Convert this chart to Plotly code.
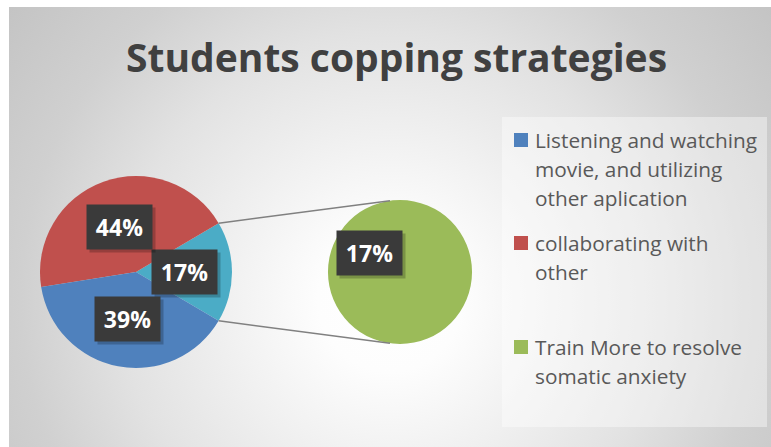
import base64, math
import plotly.graph_objects as go

# ---- data ----
title = "Students copping strategies"
categories = ["Listening and watching movie, and utilizing other aplication",
              "collaborating with other",
              "Train More to resolve somatic anxiety"]
legend_lines = [["Listening and watching", "movie, and utilizing", "other aplication"],
                ["collaborating with", "other"],
                ["Train More to resolve", "somatic anxiety"]]
values = [39, 44, 17]          # percent
other_label = "Other"          # main-pie aggregate of the secondary pie
colors = ["#4F81BD", "#C0504D", "#9BBB59"]
other_color = "#4BACC6"

W, H = 771, 447
def px(x): return x / W
def py(y): return 1 - y / H

# pie geometry (pixels)
mcx, mcy, mr = 136, 272, 96
scx, scy, sr = 400, 272, 72

other_val = values[2]
main_vals = [other_val, values[1], values[0]]
main_labels = [other_label, categories[1], categories[0]]
main_colors = [other_color, colors[1], colors[0]]
half = other_val / 100 * 360 / 2     # half-angle of the "Other" slice

fig = go.Figure()
fig.add_trace(go.Pie(
    values=main_vals, labels=main_labels, sort=False, direction="counterclockwise",
    rotation=90 - half, marker=dict(colors=main_colors, line=dict(width=0)),
    textinfo="none", hoverinfo="label+percent", showlegend=False,
    domain=dict(x=[px(mcx - mr), px(mcx + mr)], y=[py(mcy + mr), py(mcy - mr)])))
fig.add_trace(go.Pie(
    values=[values[2]], labels=[categories[2]], sort=False,
    marker=dict(colors=[colors[2]], line=dict(width=0)),
    textinfo="none", hoverinfo="label", showlegend=False,
    domain=dict(x=[px(scx - sr), px(scx + sr)], y=[py(scy + sr), py(scy - sr)])))

shapes, annos = [], []

# connector lines
sec_ang = math.radians(98)
for s in (1, -1):
    a = math.radians(s * half)
    x0, y0 = mcx + mr * math.cos(a), mcy - mr * math.sin(a)
    x1, y1 = scx + sr * math.cos(sec_ang), scy - s * sr * math.sin(sec_ang)
    shapes.append(dict(type="line", xref="paper", yref="paper",
                       x0=px(x0), y0=py(y0), x1=px(x1), y1=py(y1),
                       line=dict(color="#808080", width=1.5)))

# data labels (dark boxes at half radius, mid-angle)
def label(cx, cy, r, ang_deg, text):
    a = math.radians(ang_deg)
    x, y = cx + r * math.cos(a), cy - r * math.sin(a)
    annos.append(dict(x=px(x + 3), y=py(y + 3), xref="paper", yref="paper", text="",
                      xanchor="center", yanchor="middle",
                      showarrow=False, width=63, height=42, bgcolor="rgba(0,0,0,0.22)"))
    annos.append(dict(x=px(x), y=py(y), xref="paper", yref="paper", text=f"<b>{text}</b>",
                      xanchor="center", yanchor="middle",
                      showarrow=False, width=63, height=42, bgcolor="#3a3a3a",
                      font=dict(family="Open Sans", size=23, color="white")))

start = -half
for v in main_vals:
    ang = start + v * 360 / 100 / 2
    label(mcx, mcy, mr / 2, ang, f"{v}%")
    start += v * 360 / 100
label(scx, scy, sr / 2, 148.5, f"{values[2]}%")

# title
annos.append(dict(x=px(396.5), y=py(56), xref="paper", yref="paper", text=f"<b>{title}</b>",
                  showarrow=False, xanchor="center", yanchor="middle",
                  font=dict(family="Open Sans", size=39, color="#404040")))

# legend box
shapes.append(dict(type="rect", xref="paper", yref="paper", x0=px(502), x1=px(767),
                   y0=py(117), y1=py(427), fillcolor="rgba(255,255,255,0.4)",
                   line=dict(width=0), layer="below"))
legend_y = [140, 243, 347]
for lines, c, y in zip(legend_lines, colors, legend_y):
    shapes.append(dict(type="rect", xref="paper", yref="paper", x0=px(514), x1=px(528),
                       y0=py(y - 7), y1=py(y + 7), fillcolor=c, line=dict(width=0)))
    for i, t in enumerate(lines):
        annos.append(dict(x=px(533), y=py(y + i * 29), xref="paper", yref="paper", text=t,
                          showarrow=False, xanchor="left", yanchor="middle",
                          font=dict(family="Open Sans", size=20.8, color="#595959")))

svg = ("<svg xmlns='http://www.w3.org/2000/svg' width='762' height='440'>"
       "<defs><radialGradient id='g' gradientUnits='userSpaceOnUse' cx='381' cy='293' r='480'>"
       "<stop offset='0' stop-color='#ffffff'/><stop offset='0.15' stop-color='#fdfdfd'/>"
       "<stop offset='0.56' stop-color='#e2e2e2'/><stop offset='0.77' stop-color='#d0d0d0'/>"
       "<stop offset='1' stop-color='#c4c4c4'/></radialGradient></defs>"
       "<rect width='762' height='440' fill='url(#g)'/></svg>")
src = "data:image/svg+xml;base64," + base64.b64encode(svg.encode()).decode()

fig.update_layout(
    width=W, height=H, margin=dict(l=0, r=0, t=0, b=0),
    paper_bgcolor="white", plot_bgcolor="rgba(0,0,0,0)",
    shapes=shapes, annotations=annos,
    images=[dict(source=src, xref="paper", yref="paper", x=px(9), y=py(7),
                 sizex=762 / W, sizey=440 / H, sizing="stretch", layer="below",
                 xanchor="left", yanchor="top")])
fig.write_html("out.html")
